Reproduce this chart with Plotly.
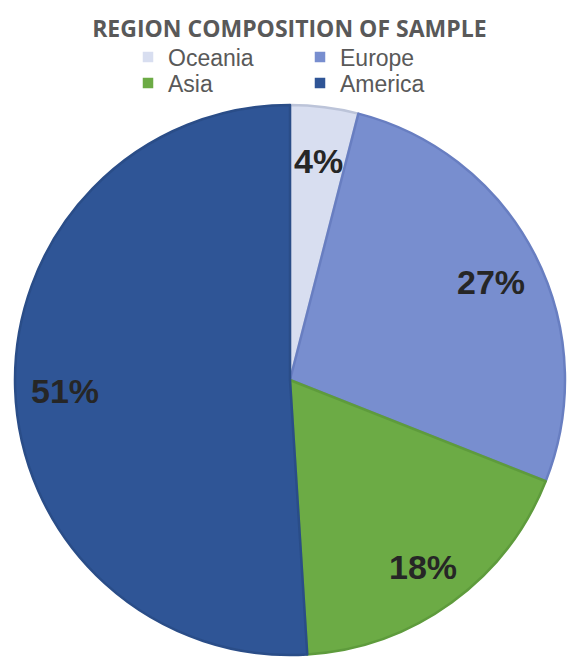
import math
import plotly.graph_objects as go

# ---- data ----
regions = ["Oceania", "Europe", "Asia", "America"]
shares = [4, 27, 18, 51]
fill_colors = ["#D8DEF0", "#788ECF", "#6CAB45", "#2F5596"]
edge_colors = ["#BCC4D9", "#687EC1", "#5E9B3C", "#2A4D88"]
legend_rows = [["Oceania", "Europe"], ["Asia", "America"]]
title_text = "REGION COMPOSITION OF SAMPLE"

W, H = 573, 670
ML, MR, MT, MB = 15, 8, 105, 15

fig = go.Figure()
fig.add_trace(go.Pie(
    labels=regions, values=shares, sort=False, direction="clockwise", rotation=0,
    marker=dict(colors=fill_colors, line=dict(color=edge_colors, width=2.5)),
    textinfo="none", hoverinfo="label+percent", showlegend=False,
    domain=dict(x=[0, 1], y=[0, 1]),
))

# legend-only entries (two rows of two)
for row_i, row in enumerate(legend_rows):
    lg = "legend" if row_i == 0 else "legend2"
    for name in row:
        i = regions.index(name)
        fig.add_trace(go.Scatter(
            x=[None], y=[None], mode="markers", name=name, legend=lg,
            marker=dict(symbol="square", size=12, color=fill_colors[i],
                        line=dict(color="#FFFFFF", width=1.5)),
            hoverinfo="skip",
        ))

# percentage labels at a fraction of the radius along each slice's mid-angle
total = sum(shares)
cum = 0
label_r = 0.82
for v in shares:
    mid = (cum + v / 2) / total * 2 * math.pi
    cum += v
    fig.add_annotation(
        x=0.5 + 0.5 * label_r * math.sin(mid),
        y=0.5 + 0.5 * label_r * math.cos(mid) - 0.008,
        xref="paper", yref="paper", xanchor="center", yanchor="middle", showarrow=False,
        text=f"{round(v / total * 100)}%",
        font=dict(family="Liberation Sans, Arial", size=34, color="#262626", weight="bold"),
    )

legend_common = dict(
    orientation="h", xref="paper", yref="paper", xanchor="left", yanchor="middle",
    entrywidth=127, entrywidthmode="pixels", bgcolor="rgba(0,0,0,0)",
    font=dict(family="Liberation Sans, Arial", size=23, color="#595959"),
    itemclick=False, itemdoubleclick=False, tracegroupgap=0,
)
x_leg = (128 - ML) / (W - ML - MR)
fig.update_layout(
    width=W, height=H,
    margin=dict(l=ML, r=MR, t=MT, b=MB, autoexpand=False),
    paper_bgcolor="white", plot_bgcolor="white",
    title=dict(text=title_text, x=0.505, xanchor="center", y=1 - 29 / H, yanchor="middle",
               font=dict(family="Open Sans", size=23, color="#595959", weight="bold")),
    xaxis=dict(visible=False), yaxis=dict(visible=False),
    legend=dict(x=x_leg, y=(H - MB - 57) / (H - MT - MB), **legend_common),
    legend2=dict(x=x_leg, y=(H - MB - 83) / (H - MT - MB), **legend_common),
)

fig.write_html("out.html")
